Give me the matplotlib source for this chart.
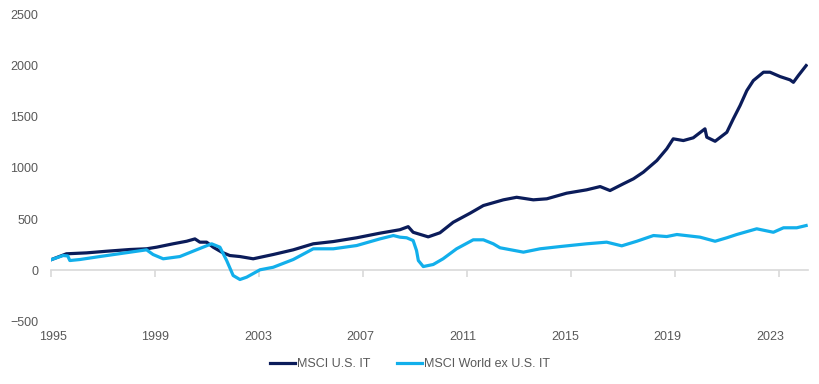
import matplotlib
matplotlib.use("Agg")
import matplotlib.pyplot as plt
import matplotlib.transforms as mtransforms
from matplotlib import font_manager

# values (index, x in fractional years)
us_years = [1995.00, 1995.60, 1996.37, 1997.14, 1998.04, 1998.68, 1999.07, 1999.70,
            2000.22, 2000.54, 2000.73, 2000.99, 2001.24, 2001.57, 2001.88, 2002.27,
            2002.78, 2003.55, 2004.32, 2005.09, 2005.86, 2006.76, 2007.65, 2008.42,
            2008.74, 2008.93, 2009.51, 2009.96, 2010.47, 2011.12, 2011.63, 2012.40,
            2012.91, 2013.55, 2014.07, 2014.83, 2015.60, 2016.12, 2016.50, 2017.01,
            2017.40, 2017.78, 2018.30, 2018.68, 2018.93, 2019.32, 2019.70, 2020.15,
            2020.22, 2020.54, 2020.99, 2021.24, 2021.50, 2021.76, 2022.01, 2022.40,
            2022.65, 2023.04, 2023.42, 2023.55, 2023.74, 2024.04]
us_vals = [100, 159, 168, 184, 201, 208, 224, 257,
           282, 305, 273, 273, 224, 175, 142, 132,
           110, 152, 198, 257, 279, 316, 361, 395,
           425, 370, 325, 365, 468, 557, 632, 688,
           713, 688, 698, 753, 786, 818, 779, 845,
           894, 959, 1073, 1188, 1286, 1269, 1296, 1384,
           1302, 1262, 1350, 1482, 1612, 1759, 1857, 1939,
           1939, 1896, 1864, 1840, 1906, 2004]

world_years = [1995.00, 1995.47, 1995.65, 1995.73, 1996.12, 1996.88, 1997.78, 1998.68,
               1998.93, 1999.32, 1999.96, 2000.60, 2001.18, 2001.50, 2001.76, 2002.01,
               2002.27, 2002.53, 2003.04, 2003.55, 2004.32, 2005.09, 2005.86, 2006.76,
               2007.65, 2008.17, 2008.42, 2008.68, 2008.93, 2009.06, 2009.13, 2009.32,
               2009.70, 2010.08, 2010.60, 2011.24, 2011.63, 2012.01, 2012.27, 2013.17,
               2013.81, 2014.58, 2015.60, 2016.37, 2016.95, 2017.53, 2018.17, 2018.68,
               2019.07, 2019.96, 2020.54, 2020.99, 2021.37, 2022.14, 2022.78, 2023.17,
               2023.68, 2024.04]
world_vals = [100, 142, 138, 93, 103, 132, 165, 198,
              152, 110, 132, 198, 257, 224, 93, -54,
              -93, -70, 2, 27, 103, 208, 208, 240,
              305, 338, 322, 316, 289, 191, 93, 34,
              54, 110, 208, 296, 296, 257, 218, 175,
              208, 230, 257, 273, 237, 282, 338, 328,
              348, 322, 282, 316, 348, 404, 370, 414,
              414, 436]

year_ticks = [1995, 1999, 2003, 2007, 2011, 2015, 2019, 2023]
y_ticks = [-500, 0, 500, 1000, 1500, 2000, 2500]

NAVY = "#0b1c5a"
SKY = "#12afeb"
GREY = "#595959"
AXIS = "#d9d9d9"

# a narrow face if one is installed, else a plain one a size down
installed = {f.name for f in font_manager.fontManager.ttflist}
if "Liberation Sans Narrow" in installed:
    plt.rcParams["font.family"] = ["Liberation Sans Narrow", "DejaVu Sans"]
    FS = 10
else:
    plt.rcParams["font.family"] = ["Liberation Sans", "DejaVu Sans"]
    FS = 9

fig = plt.figure(figsize=(8.2, 3.84), dpi=100)
ax = fig.add_axes([0.062, 0.164, 0.923, 0.797])

ax.plot(us_years, us_vals, color=NAVY, lw=2.3, label="MSCI U.S. IT", solid_joinstyle="round")
ax.plot(world_years, world_vals, color=SKY, lw=2.3, label="MSCI World ex U.S. IT",
        solid_joinstyle="round")

ax.set_xlim(1995, 2024.1)
ax.set_ylim(-500, 2500)

for s in ("top", "right", "left"):
    ax.spines[s].set_visible(False)
ax.spines["bottom"].set_position(("data", 0))
ax.spines["bottom"].set_color(AXIS)
ax.spines["bottom"].set_linewidth(1.2)
ax.spines["bottom"].set_zorder(0)

ax.set_xticks(year_ticks)
ax.tick_params(axis="x", length=5, width=1.2, color=AXIS, labelbottom=False)
ax.set_yticks(y_ticks)
ax.tick_params(axis="y", length=0, pad=9, labelsize=FS, labelcolor=GREY)

# category labels sit below the plot area, not on the zero line
trans = mtransforms.blended_transform_factory(ax.transData, ax.transAxes)
for yr in year_ticks:
    ax.text(1995 + (yr - 1995) * 0.985 + 0.08, -0.052, str(yr), transform=trans,
            ha="center", va="center", fontsize=FS, color=GREY)

fig.legend(loc="center", bbox_to_anchor=(0.5, 0.052), ncol=2, frameon=False,
           fontsize=FS, labelcolor=GREY, handlelength=2.0, handletextpad=0.15,
           columnspacing=2.2)

fig.savefig("out.png", dpi=100)
